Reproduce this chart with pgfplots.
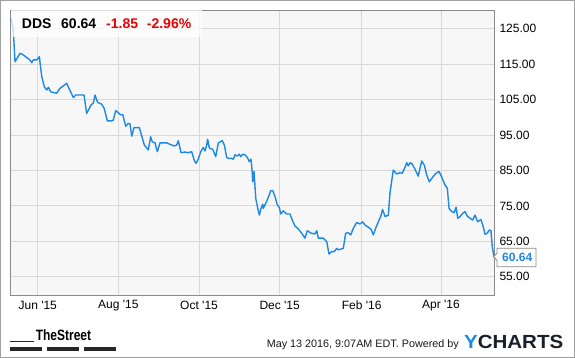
\documentclass[border=0pt]{standalone}
\usepackage{fontspec}
\setmainfont{Liberation Sans}
\usepackage{graphicx}
\usepackage{pgfplots}
\pgfplotsset{compat=1.18}
\usepackage{pgfplotstable}
\definecolor{bgc}{RGB}{247,247,247}
\definecolor{gridc}{RGB}{216,216,216}
\definecolor{axc}{RGB}{138,138,138}
\definecolor{linec}{RGB}{30,136,229}
\definecolor{redc}{RGB}{235,0,0}
\definecolor{framec}{RGB}{160,160,160}
\definecolor{ynavy}{RGB}{28,30,42}
\definecolor{yblue}{RGB}{25,140,230}

% day index (0 = 13 May 2015), closing price
\pgfplotstableread{
d p
-1.2 127.9
0.5 124.6
1.8 115.7
5.6 118.1
8.1 117.6
13.1 116.2
14.4 115.4
15.6 116.2
18.2 116.2
20.2 117.1
22.0 111.5
24.0 108.6
25.8 107.7
27.0 108.5
28.8 107.2
33.3 106.8
35.8 108.2
40.9 109.6
42.6 108.2
45.9 105.6
47.7 106.3
54.0 106.3
56.0 101.1
59.3 103.5
61.0 104.0
62.3 106.3
64.3 104.2
67.4 103.7
69.3 102.5
71.6 99.0
74.9 99.0
76.1 99.2
78.0 101.9
79.9 101.3
81.7 100.7
83.3 100.8
85.5 97.5
87.5 98.3
88.8 98.1
90.1 94.7
91.8 97.1
95.8 97.1
99.6 92.2
102.6 90.8
104.4 94.5
105.6 93.1
107.7 92.8
109.4 90.3
111.5 92.8
116.5 92.8
118.3 92.5
122.3 91.9
124.1 92.2
125.3 93.4
127.4 90.0
130.4 90.2
132.9 90.0
135.4 90.3
137.4 87.8
138.7 87.0
140.4 88.2
142.3 90.3
144.2 91.5
145.5 90.5
146.8 92.2
147.5 93.8
148.8 91.3
151.3 91.0
153.6 88.9
155.6 92.8
158.6 93.4
160.1 92.2
161.9 88.7
163.1 88.4
165.7 88.4
166.9 88.2
168.2 89.4
169.9 89.1
171.4 89.6
172.5 88.9
174.0 89.6
175.8 89.4
177.5 88.7
179.0 87.5
180.3 88.2
181.1 85.1
181.6 81.8
182.6 84.7
183.9 77.1
185.4 74.3
186.6 72.4
187.9 74.3
189.2 75.5
189.6 74.3
191.6 75.9
193.4 77.4
195.2 79.3
196.7 79.3
198.5 77.6
200.2 75.3
201.7 74.6
202.8 72.7
204.7 73.6
207.3 72.7
209.8 72.7
211.5 71.0
213.6 69.3
216.1 68.5
218.6 67.3
221.1 65.9
222.9 68.0
225.7 67.3
228.7 67.1
230.0 68.0
231.2 65.9
235.0 65.9
237.6 64.9
239.3 61.4
241.3 62.1
243.3 62.1
245.1 63.0
246.3 62.6
250.1 63.0
251.9 67.3
253.9 67.4
255.7 66.8
257.7 68.7
260.3 70.3
262.7 69.9
264.8 70.5
266.5 69.6
269.0 69.0
271.1 68.4
272.8 66.8
274.6 68.7
276.6 70.5
278.4 72.0
279.8 74.0
281.7 72.0
284.2 72.4
285.4 78.6
287.9 85.1
290.5 84.0
293.0 84.4
294.7 84.2
296.8 85.9
298.1 87.2
299.3 86.3
300.6 87.2
302.3 86.8
304.4 85.3
306.8 83.4
309.4 87.7
311.4 86.5
313.2 83.7
315.2 81.8
317.7 83.1
320.2 84.2
322.5 84.7
324.5 83.2
327.0 80.9
328.8 80.0
330.1 74.3
332.1 73.4
333.9 73.1
335.4 74.6
336.7 71.5
338.4 72.0
340.4 72.9
342.2 73.4
343.9 72.1
346.0 71.5
348.0 71.0
349.7 72.4
351.8 70.5
354.1 71.2
355.6 69.6
357.3 67.0
359.0 67.3
360.6 68.2
361.8 68.0
362.8 63.5
364.1 60.64
}\ddsdata

\begin{document}
\begin{tikzpicture}
\begin{axis}[
  at={(10pt,63pt)}, anchor=south west,
  scale only axis, width=484pt, height=285pt,
  xmin=-2, xmax=364.1, ymin=49.85, ymax=130.3,
  axis background/.style={fill=bgc},
  axis line style={draw=axc, line width=0.8pt},
  xtick={19,80,141,202,264,324},
  xticklabels={Jun \textquotesingle15, Aug \textquotesingle15, Oct \textquotesingle15, Dec \textquotesingle15, Feb \textquotesingle16, Apr \textquotesingle16},
  ytick={55,65,...,125},
  yticklabel pos=right,
  major tick length=0pt,
  grid=major,
  major grid style={draw=gridc, line width=0.9pt},
  /pgf/number format/assume math mode=true,
  yticklabel style={anchor=west, inner sep=0pt, xshift=5.3pt,
    font=\fontsize{12}{12}\selectfont,
    /pgf/number format/.cd, fixed, fixed zerofill, precision=2},
  xticklabel style={anchor=center, inner sep=0pt, yshift=-10.5pt,
    font=\fontsize{12}{12}\selectfont},
]
\addplot[linec, line width=1.4pt, line join=round, no marks] table[x=d, y=p] {\ddsdata};
\end{axis}

\begin{scope}[x=1pt, y=-1pt, yshift=358pt]
  % title box
  \fill[white, fill opacity=0.72] (10.5,10.5) rectangle (201.5,36.7);
  \node[anchor=base west, inner sep=0pt, font=\fontsize{14}{14}\selectfont\bfseries] at (21.7,28.3) {DDS};
  \node[anchor=base west, inner sep=0pt, font=\fontsize{14}{14}\selectfont\bfseries] at (61,28.3) {60.64};
  \node[anchor=base west, inner sep=0pt, font=\fontsize{14}{14}\selectfont\bfseries, text=redc] at (106,28.3) {-1.85};
  \node[anchor=base west, inner sep=0pt, font=\fontsize{14}{14}\selectfont\bfseries, text=redc] at (146.7,28.3) {-2.96\%};
  % last value flag
  \filldraw[fill=white, draw=axc, line width=0.8pt] (493.5,256.7) -- (497,253.2) -- (497,248.3) -- (536,248.3) -- (536,266.8) -- (497,266.8) -- (497,260.2) -- cycle;
  \node[anchor=base west, inner sep=0pt, font=\fontsize{12}{12}\selectfont\bfseries, text=linec] at (502,261.6) {60.64};
  % TheStreet logo
  \draw[black!85, line width=0.9pt] (10,341) -- (34,341);
  \node[anchor=base west, inner sep=0pt, font=\fontsize{15}{15}\selectfont\bfseries] at (35.6,341) {\scalebox{0.8}[1]{TheStreet}};
  \fill[black!85] (10,347) rectangle (42.2,350.6);
  \fill[black!85] (46.9,347) rectangle (78.8,350.6);
  \fill[black!85] (83.6,347) rectangle (115.9,350.6);
  % footer
  \node[anchor=base west, inner sep=0pt, font=\fontsize{10.8}{11}\selectfont, text=black!90] at (266.6,348) {May 13 2016, 9:07AM EDT. Powered by};
  \node[anchor=base west, inner sep=0pt, font=\fontsize{19}{19}\selectfont\bfseries] at (463.9,348.3) {\scalebox{1.08}[1]{\textcolor{yblue}{Y}\textcolor{ynavy}{CHARTS}}};
  % outer frame
  \draw[framec, line width=1pt] (0.5,0.5) rectangle (574.5,357.5);
\end{scope}
\pgfresetboundingbox
\path[use as bounding box] (0,0) rectangle (575pt,358pt);
\end{tikzpicture}
\end{document}
